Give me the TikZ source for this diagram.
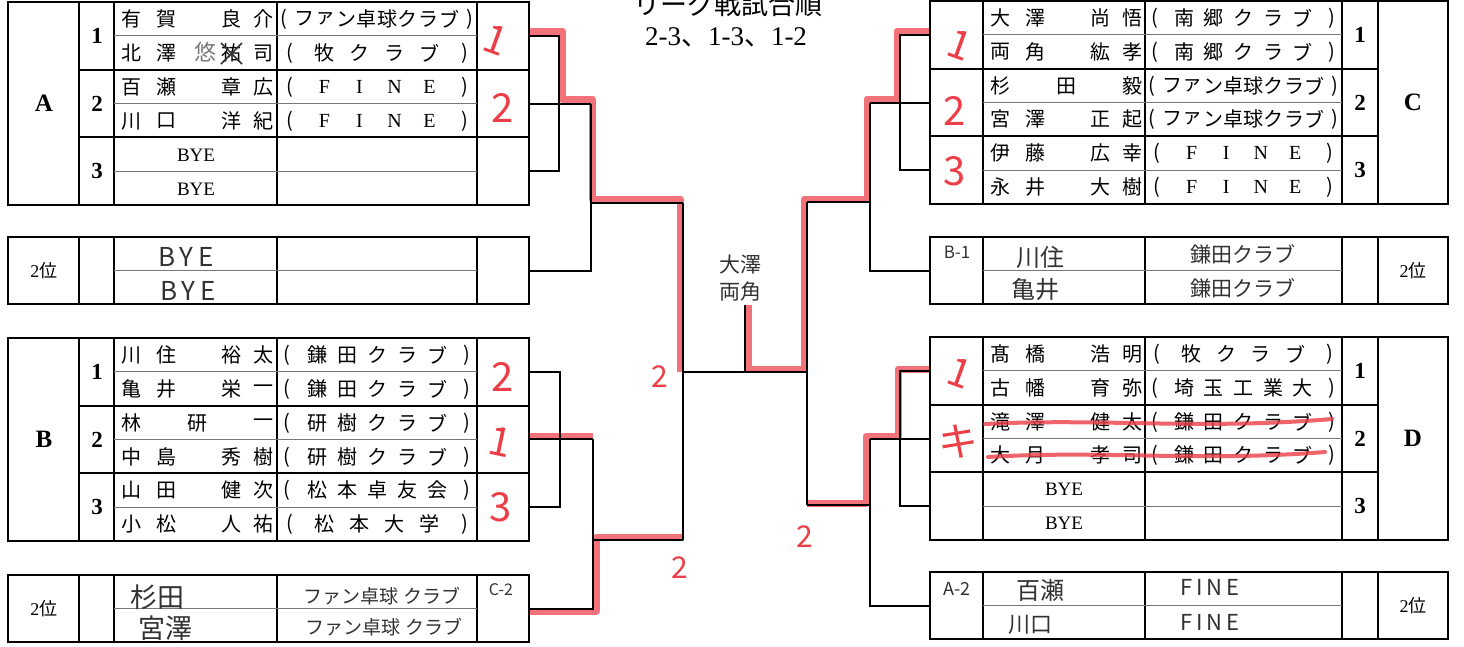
\documentclass[tikz,border=0pt]{standalone}
\usepackage{fontspec}
\setmainfont{Liberation Serif}
\newfontfamily\jp{Noto Sans CJK JP}
\newfontfamily\hw{Noto Sans CJK JP}
\definecolor{mk}{RGB}{236,62,70}
\definecolor{pen}{RGB}{50,50,50}
\definecolor{subc}{RGB}{120,120,120}
\newcount\tcnt
\newcommand\tx[3]{\global\advance\tcnt by 1 \node[txt] (t\the\tcnt) at (#1,#2) {#3};}
\newcommand\spread[5]{\foreach \s [count=\i] in {#5}{\global\advance\tcnt by 1 \node[txt] (t\the\tcnt) at ({#1+(\i-0.5)*(#2-#1)/#4},#3) {\s};}}
\newcommand\nmIV[6]{\tx{#1+17}{#2}{#3}\tx{#1+52}{#2}{#4}\tx{#1+117}{#2}{#5}\tx{#1+149}{#2}{#6}}
\newcommand\nmIII[5]{\tx{#1+17}{#2}{#3}\tx{#1+83}{#2}{#4}\tx{#1+149}{#2}{#5}}
\tikzset{
  frame/.style={line width=2pt, black},
  subline/.style={line width=1pt, subc},
  wire/.style={line width=2pt, black},
  redpath/.style={line width=7pt, mk, opacity=0.72, line join=round},
  txt/.style={font=\jp\fontsize{20}{20}\selectfont, inner sep=0pt},
  num/.style={font=\bfseries\fontsize{23}{23}\selectfont, inner sep=0pt},
  big/.style={font=\bfseries\fontsize{25}{25}\selectfont, inner sep=0pt},
  rank/.style={font=\fontsize{18}{18}\selectfont, inner sep=0pt},
  hand/.style={font=\hw\fontsize{21}{21}\selectfont, pen, inner sep=0pt},
  rednum/.style={font=\hw\fontsize{40}{40}\selectfont, mk, inner sep=0pt},
  fin/.style={font=\hw\fontsize{30}{30}\selectfont, mk, inner sep=0pt},
  title/.style={font=\fontsize{27}{27}\selectfont, inner sep=0pt},
}
\newcommand\lblock[3]{% top, letter, name prefix
  \draw[frame] (8,#1) rectangle (529,#1+203);
  \foreach \x in {79,114,277,477} \draw[frame] (\x,#1) -- (\x,#1+203);
  \foreach \k in {2,4} \draw[frame] (79,{#1+\k*33.83}) -- (529,{#1+\k*33.83});
  \foreach \k in {1,3,5} \draw[subline] (114,{#1+\k*33.83}) -- (477,{#1+\k*33.83});
  \node[big] (#3L) at (44,#1+101.5) {#2};
  \foreach \k in {1,2,3} \node[num] (#3n\k) at (97,{#1+(2*\k-1)*33.83}) {\k};
}
\newcommand\lsmall[2]{% top, name
  \draw[frame] (8,#1) rectangle (529,#1+67);
  \foreach \x in {79,114,277,477} \draw[frame] (\x,#1) -- (\x,#1+67);
  \draw[subline] (114,#1+33.5) -- (477,#1+33.5);
  \node[rank] (#2) at (44,#1+33.5) {2{\jp 位}};
}
\newcommand\rblock[3]{%
  \draw[frame] (930,#1) rectangle (1448,#1+203);
  \foreach \x in {983,1145,1342,1378} \draw[frame] (\x,#1) -- (\x,#1+203);
  \foreach \k in {2,4} \draw[frame] (930,{#1+\k*33.83}) -- (1378,{#1+\k*33.83});
  \foreach \k in {1,3,5} \draw[subline] (983,{#1+\k*33.83}) -- (1342,{#1+\k*33.83});
  \node[big] (#3L) at (1413,#1+101.5) {#2};
  \foreach \k in {1,2,3} \node[num] (#3n\k) at (1360,{#1+(2*\k-1)*33.83}) {\k};
}
\newcommand\rsmall[2]{%
  \draw[frame] (930,#1) rectangle (1448,#1+67);
  \foreach \x in {983,1145,1342,1378} \draw[frame] (\x,#1) -- (\x,#1+67);
  \draw[subline] (983,#1+33.5) -- (1342,#1+33.5);
  \node[rank] (#2) at (1413,#1+33.5) {2{\jp 位}};
}
\begin{document}
\begin{tikzpicture}[x=1pt,y=-1pt]
\fill[white] (0,0) rectangle (1464,646);
\useasboundingbox (0,0) rectangle (1464,646);

% ---------- title ----------
\node[title] (ttl1) at (728,4) {\jp リーグ戦試合順};
\node[title] (ttl2) at (726,37) {2-3{\jp 、}1-3{\jp 、}1-2};

% ---------- red winner paths (under the black lines) ----------
\draw[redpath] (529,31) -- (562,31) -- (562,99) -- (592,99) -- (592,199) -- (680,199) -- (680,372);
\draw[redpath] (529,436) -- (593,436);
\draw[redpath] (529,611) -- (596,611) -- (596,537) -- (684,537);
\draw[redpath] (748,305) -- (748,369) -- (804,369) -- (804,199) -- (867,199) -- (867,99) -- (897,99) -- (897,31) -- (930,31);
\draw[redpath] (807,503) -- (866,503) -- (866,436) -- (898,436) -- (898,369) -- (930,369);

% ---------- tables ----------
\lblock{2}{A}{A}
\lsmall{237}{A2}
\lblock{338}{B}{B}
\lsmall{575}{C2}
\rblock{1}{C}{C}
\rsmall{237}{B1}
\rblock{337}{D}{D}
\rsmall{572}{A2r}

% ---------- block A ----------
\nmIV{114}{19}{有}{賀}{良}{介}
\tx{131}{53}{北}\tx{166}{53}{澤}\tx{263}{53}{司}
\tx{231}{53}{祐}
\draw[line width=1.6pt,pen] (221,43) -- (242,64) (242,43) -- (221,64);
\node[hand,font=\hw\fontsize{22}{22}\selectfont,text=subc] (yu) at (205,52) {悠};
\nmIV{114}{87}{百}{瀬}{章}{広}
\nmIV{114}{121}{川}{口}{洋}{紀}
\node[font=\fontsize{19}{19}\selectfont] (bye1) at (196,155) {BYE};
\node[font=\fontsize{19}{19}\selectfont] (bye2) at (196,189) {BYE};
\spread{274}{480}{19}{10}{{(},フ,ァ,ン,卓,球,ク,ラ,ブ,{)}}
\spread{272}{482}{53}{6}{{(},牧,ク,ラ,ブ,{)}}
\spread{272}{482}{87}{6}{{(},{\rmfamily F},{\rmfamily I},{\rmfamily N},{\rmfamily E},{)}}
\spread{272}{482}{121}{6}{{(},{\rmfamily F},{\rmfamily I},{\rmfamily N},{\rmfamily E},{)}}

% ---------- A 2nd place ----------
\node[hand,font=\hw\fontsize{26}{26}\selectfont] (hb1) at (186,257) {B\,Y\,E};
\node[hand,font=\hw\fontsize{26}{26}\selectfont] (hb2) at (188,291) {B\,Y\,E};

% ---------- block B ----------
\nmIV{114}{355}{川}{住}{裕}{太}
\nmIV{114}{389}{亀}{井}{栄}{一}
\nmIII{114}{423}{林}{研}{一}
\nmIV{114}{457}{中}{島}{秀}{樹}
\nmIV{114}{490}{山}{田}{健}{次}
\nmIV{114}{524}{小}{松}{人}{祐}
\spread{272}{482}{355}{7}{{(},鎌,田,ク,ラ,ブ,{)}}
\spread{272}{482}{389}{7}{{(},鎌,田,ク,ラ,ブ,{)}}
\spread{272}{482}{423}{7}{{(},研,樹,ク,ラ,ブ,{)}}
\spread{272}{482}{457}{7}{{(},研,樹,ク,ラ,ブ,{)}}
\spread{272}{482}{490}{7}{{(},松,本,卓,友,会,{)}}
\spread{272}{482}{524}{6}{{(},松,本,大,学,{)}}

% ---------- C-2 second place ----------
\node[hand,font=\hw\fontsize{27}{27}\selectfont] (hs1) at (157,597) {杉田};
\node[hand,font=\hw\fontsize{27}{27}\selectfont] (hs2) at (165,628) {宮澤};
\node[hand,font=\hw\fontsize{19}{19}\selectfont] (hc1) at (382,596) {ファン卓球 クラブ};
\node[hand,font=\hw\fontsize{19}{19}\selectfont] (hc2) at (384,627) {ファン卓球 クラブ};
\node[hand,font=\hw\fontsize{16}{16}\selectfont] (hc3) at (501,590) {C-2};

% ---------- block C ----------
\nmIV{983}{18}{大}{澤}{尚}{悟}
\nmIV{983}{52}{両}{角}{紘}{孝}
\nmIII{983}{86}{杉}{田}{毅}
\nmIV{983}{119}{宮}{澤}{正}{起}
\nmIV{983}{153}{伊}{藤}{広}{幸}
\nmIV{983}{187}{永}{井}{大}{樹}
\spread{1140}{1347}{18}{7}{{(},南,郷,ク,ラ,ブ,{)}}
\spread{1140}{1347}{52}{7}{{(},南,郷,ク,ラ,ブ,{)}}
\spread{1142}{1345}{86}{10}{{(},フ,ァ,ン,卓,球,ク,ラ,ブ,{)}}
\spread{1142}{1345}{119}{10}{{(},フ,ァ,ン,卓,球,ク,ラ,ブ,{)}}
\spread{1140}{1347}{153}{6}{{(},{\rmfamily F},{\rmfamily I},{\rmfamily N},{\rmfamily E},{)}}
\spread{1140}{1347}{187}{6}{{(},{\rmfamily F},{\rmfamily I},{\rmfamily N},{\rmfamily E},{)}}

% ---------- B-1 second place ----------
\node[hand,font=\hw\fontsize{17}{17}\selectfont] (hr1) at (957,252) {B-1};
\node[hand,font=\hw\fontsize{24}{24}\selectfont] (hr2) at (1040,257) {川住};
\node[hand,font=\hw\fontsize{24}{24}\selectfont] (hr3) at (1035,289) {亀井};
\node[hand] (hr4) at (1243,254) {鎌田クラブ};
\node[hand] (hr5) at (1243,288) {鎌田クラブ};

% ---------- block D ----------
\nmIV{983}{354}{髙}{橋}{浩}{明}
\nmIV{983}{388}{古}{幡}{育}{弥}
\nmIV{983}{422}{滝}{澤}{健}{太}
\nmIV{983}{455}{大}{月}{孝}{司}
\node[font=\fontsize{19}{19}\selectfont] (bye3) at (1064,489) {BYE};
\node[font=\fontsize{19}{19}\selectfont] (bye4) at (1064,523) {BYE};
\spread{1140}{1347}{354}{6}{{(},牧,ク,ラ,ブ,{)}}
\spread{1140}{1347}{388}{7}{{(},埼,玉,工,業,大,{)}}
\spread{1140}{1347}{422}{7}{{(},鎌,田,ク,ラ,ブ,{)}}
\spread{1140}{1347}{455}{7}{{(},鎌,田,ク,ラ,ブ,{)}}

% ---------- A-2 second place ----------
\node[hand,font=\hw\fontsize{18}{18}\selectfont] (ha1) at (957,589) {A-2};
\node[hand,font=\hw\fontsize{24}{24}\selectfont] (ha2) at (1040,590) {百瀬};
\node[hand,font=\hw\fontsize{22}{22}\selectfont] (ha3) at (1030,625) {川口};
\node[hand,font=\hw\fontsize{22}{22}\selectfont] (ha4) at (1210,587) {F\,I\,N\,E};
\node[hand,font=\hw\fontsize{22}{22}\selectfont] (ha5) at (1210,622) {F\,I\,N\,E};

% ---------- centre names ----------
\node[hand] (cn1) at (740,265) {大澤};
\node[hand] (cn2) at (740,292) {両角};

% ---------- bracket connectors ----------
\coordinate (Aw1) at (529,35.8); \coordinate (Aw2) at (529,103.5); \coordinate (Aw3) at (529,171.2);
\coordinate (Aj) at (559,103.5); \coordinate (AA) at (591,103.5);
\coordinate (A2w) at (529,270.5); \coordinate (AL) at (591,203); \coordinate (FL1) at (683,203);
\coordinate (Bw1) at (529,372); \coordinate (Bw2) at (529,439); \coordinate (Bw3) at (529,507);
\coordinate (Bj) at (560,439); \coordinate (BB) at (593,439);
\coordinate (C2w) at (529,608.5); \coordinate (BL) at (593,540); \coordinate (FL2) at (683,540);
\coordinate (FL) at (683,372); \coordinate (FR) at (807,372);
\coordinate (ST) at (745,305); \coordinate (SB) at (745,372);
\coordinate (FR1) at (807,202); \coordinate (FR2) at (807,505);
\coordinate (Cw1) at (930,34.8); \coordinate (Cw2) at (930,102.5); \coordinate (Cw3) at (930,170.2);
\coordinate (Cj) at (900,102.5); \coordinate (CC) at (870,102.5);
\coordinate (B1w) at (930,270.5); \coordinate (CR) at (870,202);
\coordinate (Dw1) at (930,370.8); \coordinate (Dw2) at (930,438.5); \coordinate (Dw3) at (930,506.2);
\coordinate (Dj) at (900,438.5); \coordinate (DD) at (870,438.5);
\coordinate (A2rw) at (930,605.5); \coordinate (DR) at (870,505);

\draw[wire] (Aw1) -| (Aj); \draw[wire] (Aw3) -| (Aj); \draw[wire] (Aw2) -- (AA);
\draw[wire] (A2w) -| (AA); \draw[wire] (AL) -- (FL1);
\draw[wire] (Bw1) -| (Bj); \draw[wire] (Bw3) -| (Bj); \draw[wire] (Bw2) -- (BB);
\draw[wire] (C2w) -| (BB); \draw[wire] (BL) -- (FL2);
\draw[wire] (FL1) -- (FL2); \draw[wire] (FL) -- (FR); \draw[wire] (ST) -- (SB);
\draw[wire] (FR1) -- (FR2);
\draw[wire] (Cw1) -| (Cj); \draw[wire] (Cw3) -| (Cj); \draw[wire] (Cw2) -- (CC);
\draw[wire] (B1w) -| (CC); \draw[wire] (CR) -- (FR1);
\draw[wire] (Dw1) -| (Dj); \draw[wire] (Dw3) -| (Dj); \draw[wire] (Dw2) -- (DD);
\draw[wire] (A2rw) -| (DD); \draw[wire] (DR) -- (FR2);

% ---------- red strike-throughs ----------
\draw[mk, line width=4pt, opacity=0.8, line cap=round] (985,424) .. controls (1100,418) and (1200,430) .. (1332,419);
\draw[mk, line width=4pt, opacity=0.8, line cap=round] (988,457) .. controls (1100,450) and (1200,462) .. (1325,452);

% ---------- red result marks ----------
\node[rednum,rotate=-20] (r1) at (496,40) {1};
\node[rednum] (r2) at (503,108) {2};
\node[rednum] (r3) at (503,377) {2};
\node[rednum,rotate=-12] (r4) at (500,442) {1};
\node[rednum] (r5) at (501,507) {3};
\node[rednum,rotate=-20] (r6) at (960,45) {1};
\node[rednum] (r7) at (955,111) {2};
\node[rednum] (r8) at (955,171) {3};
\node[rednum,rotate=-20] (r9) at (960,373) {1};
\node[rednum] (r10) at (958,442) {キ};
\node[fin] (f1) at (660,377) {2};
\node[fin] (f2) at (680,568) {2};
\node[fin] (f3) at (805,537) {2};
\end{tikzpicture}
\end{document}
